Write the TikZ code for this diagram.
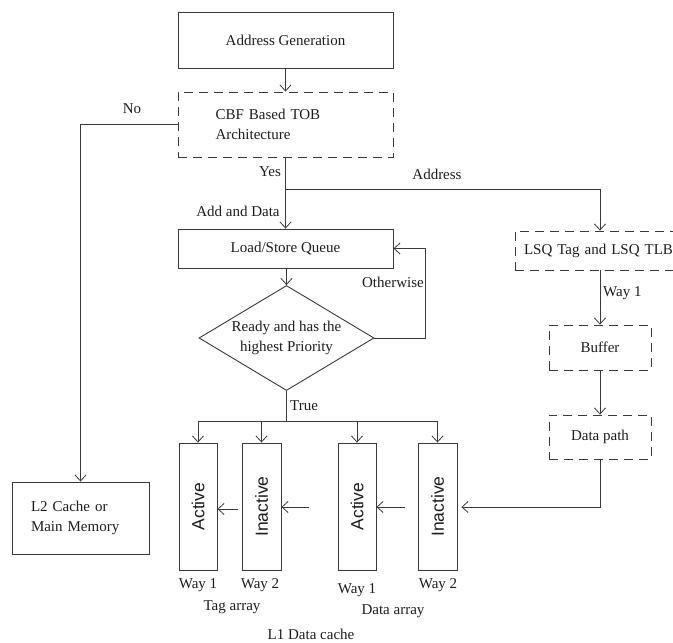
\documentclass[tikz,border=0pt]{standalone}
\usepackage{fontspec}
\usepackage{graphicx}
\setmainfont{Liberation Serif}
\newfontfamily\arialfont{Liberation Sans}
\usetikzlibrary{arrows.meta,shapes.geometric}
\definecolor{ln}{HTML}{3A3A3A}
\definecolor{txt}{HTML}{1E1E1E}
\tikzset{
  lbl/.style={font=\fontsize{15}{20}\selectfont, text=txt, inner sep=0pt},
  blk/.style={draw=ln, line width=0.9pt, font=\fontsize{15}{20}\selectfont, text=txt, inner sep=0pt, align=center},
  dbox/.style={blk, dash pattern=on 9pt off 6pt},
  waybox/.style={blk, minimum width=38pt, minimum height=127pt, font=\arialfont\fontsize{17.5}{20}\selectfont},
  conn/.style={draw=ln, line width=0.9pt, -{Straight Barb[length=6pt,width=11pt,line width=0.8pt]}},
  plain/.style={draw=ln, line width=0.9pt}
}
\begin{document}
\begin{tikzpicture}[x=1pt,y=-1pt]
\useasboundingbox[fill=white] (0,0) rectangle (673,643);

% boxes
\node[blk, minimum width=215pt, minimum height=56pt] (ag) at (285.5,40) {Address Generation};
\node[dbox, minimum width=215pt, minimum height=65pt, text width=140pt, inner xsep=37pt, align=left] (cbf) at (285.5,124.5) {CBF Based TOB\\Architecture};
\node[blk, minimum width=215pt, minimum height=39pt] (lsq) at (285.5,248.5) {Load/Store Queue};
\node[diamond, draw=ln, line width=0.9pt, minimum width=175pt, minimum height=105pt, inner sep=0pt,
      label={[lbl, align=center]center:Ready and has the\\highest Priority}] (dia) at (286.5,338) {};
\node[blk, minimum width=137pt, minimum height=72pt, text width=99pt, inner xsep=19pt, align=left] (l2) at (80.5,518) {L2 Cache or\\Main Memory};
\node[dbox, minimum width=175pt, minimum height=39pt, text width=175pt] (tag) at (602.5,250.5) {\hspace*{-8pt}LSQ Tag and LSQ TLB};
\node[dbox, minimum width=102pt, minimum height=45pt] (buf) at (600,347.5) {Buffer};
\node[dbox, minimum width=102pt, minimum height=44pt] (dp) at (600,437) {Data path};

\node[waybox] (a1) at (198,506.5) {\rotatebox{90}{Active}};
\node[waybox, minimum width=39pt] (i1) at (261.5,506.5) {\rotatebox{90}{Inactive}};
\node[waybox] (a2) at (357,506.5) {\rotatebox{90}{Active}};
\node[waybox, minimum width=39pt] (i2) at (437.5,506.5) {\rotatebox{90}{Inactive}};

% labels
\node[lbl] (no) at (132,109) {No};
\node[lbl] (yes) at (270,172) {Yes};
\node[lbl] (addr) at (437,174) {Address};
\node[lbl] (adddata) at (238,211) {Add and Data};
\node[lbl, anchor=east] (oth) at (424,282) {Otherwise};
\node[lbl, anchor=west] (true) at (290,406) {True};
\node[lbl, anchor=west] (way) at (603,293) {Way 1};
\node[lbl] (w1a) at (198,585) {Way 1};
\node[lbl] (w2a) at (260,585) {Way 2};
\node[lbl] (w1b) at (357,590) {Way 1};
\node[lbl] (w2b) at (438,585) {Way 2};
\node[lbl] (tagarr) at (232,607) {Tag array};
\node[lbl] (dataarr) at (393,611) {Data array};
\node[lbl] (l1) at (311,634) {L1 Data cache};

% coordinates
\coordinate (br) at (285.5,189);
\coordinate (tb) at (286.5,421);
\coordinate (s1) at (238,509);
\coordinate (s2) at (309,507);
\coordinate (s3) at (405,507);

% connectors
\draw[conn] (ag) -- (cbf);
\draw[conn] (cbf.west) -| (l2.north);
\draw[conn] (cbf.south) -- (lsq.north);
\draw[conn] (br) -| (buf.north |- tag.north);
\draw[conn] (lsq.south -| dia.north) -- (dia.north);
\draw[conn] (dia.east) -- (425,338) |- (lsq.east);
\draw[plain] (dia.south) -- (tb);
\draw[plain] (a1.north |- tb) -- (i2.north |- tb);
\draw[conn] (a1.north |- tb) -- (a1.north);
\draw[conn] (i1.north |- tb) -- (i1.north);
\draw[conn] (a2.north |- tb) -- (a2.north);
\draw[conn] (i2.north |- tb) -- (i2.north);
\draw[conn] (buf.north |- tag.south) -- (buf.north);
\draw[conn] (buf.south) -- (dp.north);
\draw[conn, shorten >=4pt] (dp.south) |- (i2.east |- s3);
\draw[conn] (s1) -- (a1.east |- s1);
\draw[conn] (s2) -- (i1.east |- s2);
\draw[conn] (s3) -- (a2.east |- s3);
\end{tikzpicture}
\end{document}
